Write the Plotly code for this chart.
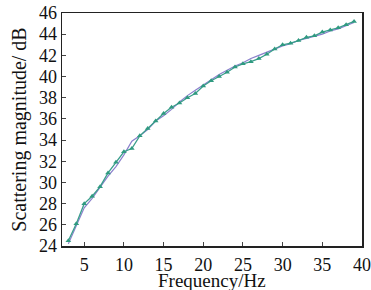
import plotly.graph_objects as go

freq = list(range(3, 40))
fitted = [24.5, 26.1, 28.0, 28.7, 29.6, 30.9, 31.9, 32.9, 33.2, 34.4,
          35.1, 35.8, 36.5, 37.1, 37.5, 38.0, 38.4, 39.1, 39.6, 40.0,
          40.4, 40.9, 41.2, 41.4, 41.7, 42.1, 42.6, 43.0, 43.15, 43.4,
          43.7, 43.85, 44.2, 44.4, 44.6, 44.9, 45.2]
measured = [24.2, 25.9, 27.6, 28.5, 29.6, 30.6, 31.5, 32.6, 33.9, 34.4,
            35.0, 35.8, 36.3, 36.9, 37.6, 38.2, 38.7, 39.2, 39.7, 40.2,
            40.6, 41.0, 41.3, 41.7, 42.0, 42.3, 42.6, 42.9, 43.1, 43.4,
            43.6, 43.8, 44.0, 44.3, 44.5, 44.8, 45.1]
x_ticks = [5, 10, 15, 20, 25, 30, 35, 40]
y_ticks = [24, 26, 28, 30, 32, 34, 36, 38, 40, 42, 44, 46]
x_title = "Frequency/Hz"
y_title = "Scattering magnitude/ dB"

fig = go.Figure()
fig.add_trace(go.Scatter(x=freq, y=measured, mode="lines",
                         line=dict(color="#8a7fcc", width=1.2), showlegend=False))
fig.add_trace(go.Scatter(x=freq, y=fitted, mode="lines+markers",
                         line=dict(color="#3a9e8c", width=1.3),
                         marker=dict(symbol="triangle-up", size=5, color="#2f9a80"),
                         showlegend=False))

font = "Liberation Serif"
fig.update_layout(
    width=371, height=290,
    margin=dict(l=62, r=9, t=13, b=44),
    paper_bgcolor="white", plot_bgcolor="white",
    font=dict(family=font, color="#111", size=18),
    xaxis=dict(range=[2.2, 40], tickvals=x_ticks, ticks="inside", ticklen=4,
               showline=True, linecolor="#222", linewidth=1.5, mirror=True,
               showgrid=False, zeroline=False, ticklabeloverflow="allow",
               ticklabelstandoff=2, automargin=False,
               tickfont=dict(family=font, size=18, color="#111")),
    yaxis=dict(range=[24, 46], tickvals=y_ticks, ticks="inside", ticklen=4,
               showline=True, linecolor="#222", linewidth=1.5, mirror=True,
               showgrid=False, zeroline=False, automargin=False,
               tickfont=dict(family=font, size=18, color="#111"),
               title=dict(text=y_title, font=dict(family=font, size=20), standoff=7)),
    annotations=[dict(text=x_title, xref="paper", yref="paper", x=0.5, y=-0.146,
                      xanchor="center", yanchor="middle", showarrow=False,
                      font=dict(family=font, size=19, color="#111"))],
)
fig.write_html("out.html", config={"displayModeBar": False, "staticPlot": True},
               post_script="document.body.style.margin='0';document.body.style.overflow='hidden';")
